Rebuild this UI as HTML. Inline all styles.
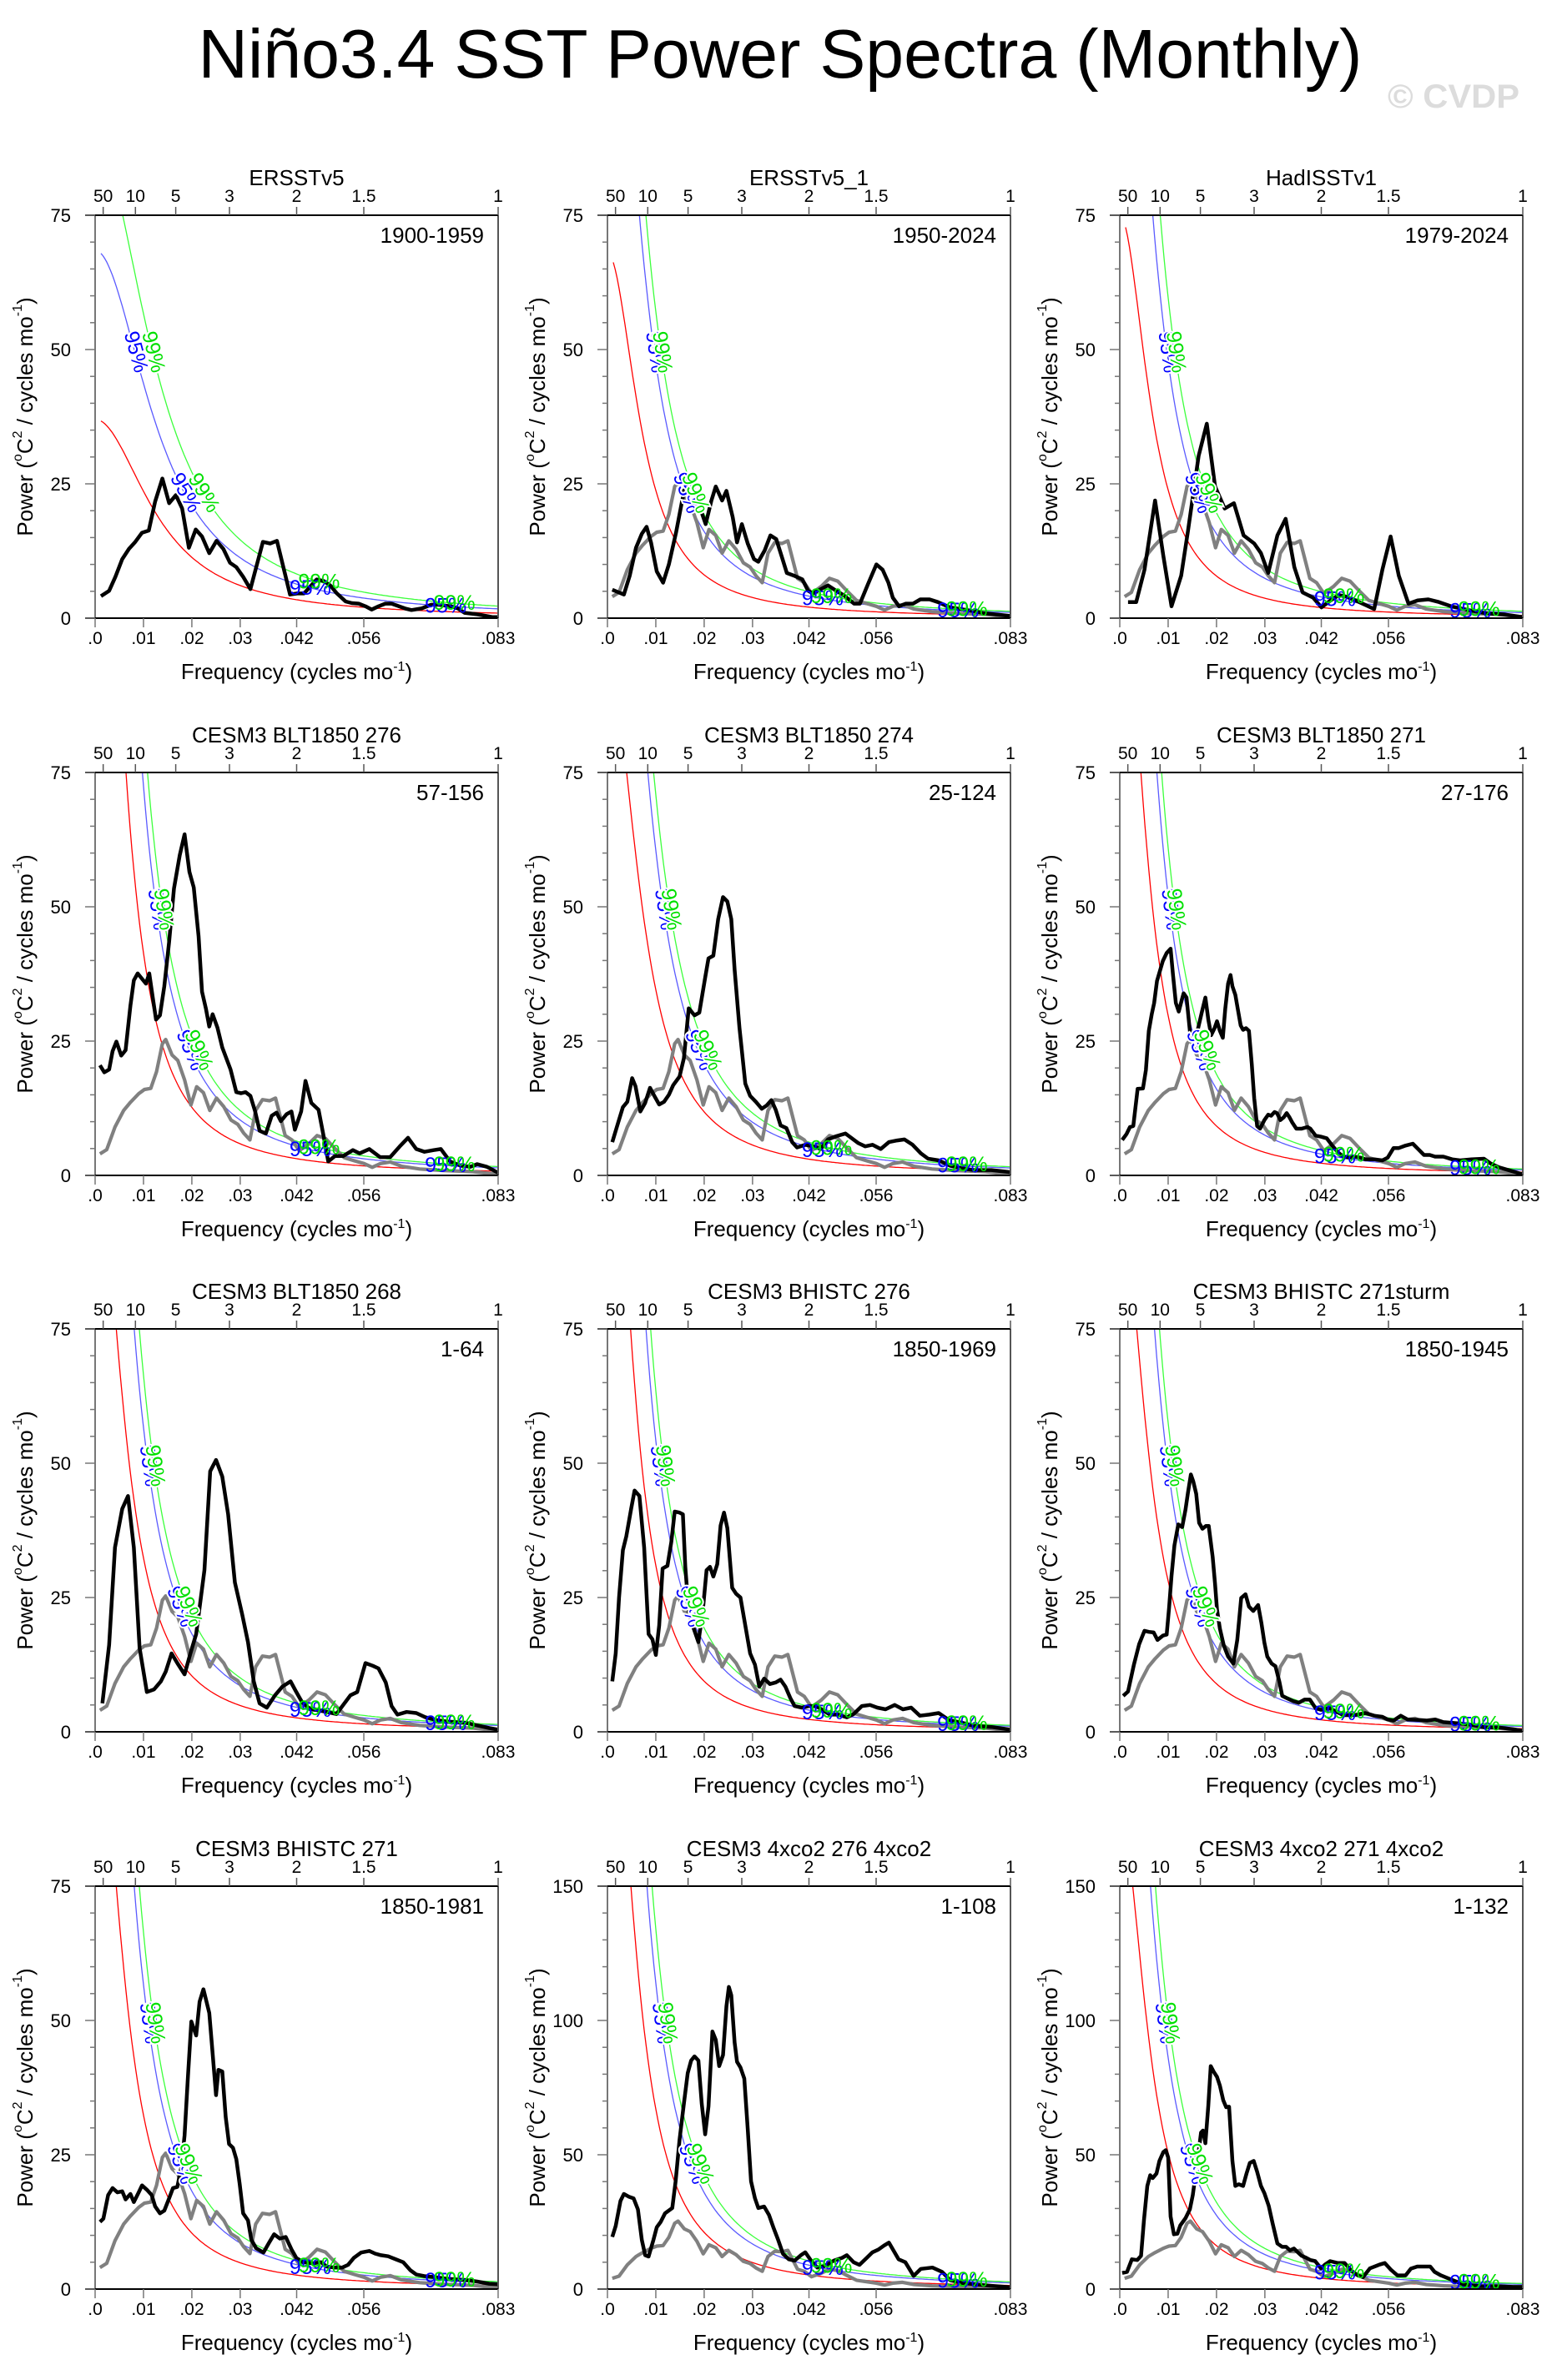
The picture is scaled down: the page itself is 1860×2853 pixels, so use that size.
<!DOCTYPE html>
<html><head><meta charset="utf-8"><title>Niño3.4 SST Power Spectra</title>
<style>html,body{margin:0;padding:0;background:#fff}svg{display:block;font-family:"Liberation Sans",Arial,sans-serif}</style>
</head><body>
<svg id="chart" width="1860" height="2853" viewBox="0 0 1860 2853" xmlns="http://www.w3.org/2000/svg">
<rect width="1860" height="2853" fill="#fff"/>
<text x="935" y="93" font-size="83" text-anchor="middle" textLength="1395" lengthAdjust="spacingAndGlyphs">Niño3.4 SST Power Spectra (Monthly)</text>
<text x="1742" y="129" font-size="40" font-weight="bold" fill="#dcdcdc" text-anchor="middle" textLength="158" lengthAdjust="spacingAndGlyphs">© CVDP</text>
<g id="panels"></g>
</svg>
<script>
// ---------- panel metadata ----------
const titles=["ERSSTv5","ERSSTv5_1","HadISSTv1","CESM3 BLT1850 276","CESM3 BLT1850 274","CESM3 BLT1850 271","CESM3 BLT1850 268","CESM3 BHISTC 276","CESM3 BHISTC 271sturm","CESM3 BHISTC 271","CESM3 4xco2 276 4xco2","CESM3 4xco2 271 4xco2"];
const periods=["1900-1959","1950-2024","1979-2024","57-156","25-124","27-176","1-64","1850-1969","1850-1945","1850-1981","1-108","1-132"];
const yMaxes=[75,75,75,75,75,75,75,75,75,75,150,150];
const redS0=[37,68,75,170,96,117,109,130,98,109,243,177];
const redLag=[0.92,0.955,0.958,0.965,0.954,0.964,0.96,0.9655,0.961,0.96,0.962,0.961];
const conf95=[1.85,2.0,2.0,1.75,1.75,1.75,1.75,1.75,1.75,1.75,1.7,1.7];
const conf99=[2.4,2.4,2.5,2.05,2.05,2.05,2.05,2.05,2.05,2.05,2.0,2.0];
const xTickVals=[0,0.01,0.02,0.03,0.04167,0.05556,0.08333];
const xTickLabels=[".0",".01",".02",".03",".042",".056",".083"];
const topPeriods=[50,10,5,3,2,1.5,1];
const topLabels=["50","10","5","3","2","1.5","1"];

// ---------- reference (gray) spectrum ----------
const grayF=[.0010,.0024,.0041,.0059,.0073,.0090,.0102,.0115,.0127,.0139,.0146,.0159,.0171,.0185,.0198,.0210,.0224,.0237,.0251,.0266,.0281,.0295,.0307,.0320,.0332,.0346,.0361,.0373,.0393,.0407,.0422,.0442,.0459,.0476,.0495,.0515,.0537,.0556,.0573,.0590,.0610,.0634,.0671,.0720,.0781,.0833];
const grayP=[4.0,4.8,9.0,12.1,13.6,15.2,16.0,16.2,19.3,24.5,25.3,22.4,21.4,17.8,13.1,16.5,15.4,12.1,14.4,12.8,10.3,9.5,7.9,6.6,12.1,14.1,13.9,14.4,7.4,6.6,4.6,5.9,7.4,6.9,5.1,3.3,2.7,2.2,1.5,2.2,2.5,1.7,1.2,0.9,0.7,0.2];

// ---------- per-panel spectra ----------
const p1F=[.0012,.0029,.0042,.0056,.0070,.0083,.0097,.0111,.0124,.0139,.0153,.0167,.0180,.0194,.0208,.0221,.0236,.0251,.0265,.0279,.0292,.0306,.0321,.0347,.0362,.0376,.0403,.0418,.0432,.0458,.0473,.0486,.0500,.0518,.0531,.0545,.0559,.0572,.0586,.0600,.0613,.0641,.0654,.0675,.0695,.0709,.0736,.0750,.0764,.0791,.0821,.0833];
const p1P=[4.1,5.1,7.7,11.0,12.9,14.2,15.9,16.3,21.7,26.0,21.4,22.9,20.4,13.1,16.5,15.2,12.1,14.4,12.9,10.3,9.5,7.7,5.4,14.2,13.9,14.4,4.4,4.6,4.6,7.2,6.9,6.1,4.6,3.1,2.8,2.7,2.2,1.6,2.2,2.7,2.7,1.8,1.5,1.8,2.5,2.5,2.2,1.8,1.0,0.7,0.2,0.2];
const p2F=[.0010,.0034,.0046,.0059,.0071,.0081,.0090,.0102,.0115,.0127,.0142,.0154,.0163,.0173,.0188,.0203,.0215,.0224,.0237,.0246,.0259,.0268,.0278,.0290,.0303,.0312,.0325,.0337,.0349,.0361,.0371,.0386,.0403,.0415,.0425,.0439,.0456,.0473,.0488,.0510,.0522,.0539,.0556,.0569,.0581,.0590,.0603,.0617,.0632,.0647,.0666,.0683,.0708,.0744,.0781,.0833];
const p2P=[5.3,4.4,7.9,13.1,15.7,17.0,14.1,8.7,6.6,10.0,16.0,21.7,25.5,25.3,21.4,17.5,21.9,24.5,21.9,23.7,18.8,14.1,17.5,13.9,11.0,10.5,12.6,15.4,14.7,11.3,8.4,7.9,7.2,5.1,4.6,5.3,6.1,5.1,4.3,2.7,2.7,6.4,10.0,9.0,6.6,3.8,2.2,2.7,2.7,3.5,3.5,3.0,2.0,1.5,0.9,0.4];
const p3F=[.0017,.0034,.0051,.0073,.0090,.0107,.0127,.0141,.0163,.0180,.0197,.0217,.0236,.0256,.0278,.0292,.0307,.0326,.0343,.0361,.0378,.0400,.0417,.0436,.0453,.0468,.0487,.0507,.0526,.0543,.0560,.0577,.0597,.0616,.0638,.0660,.0685,.0721,.0758,.0794,.0833];
const p3P=[3.0,3.0,9.0,21.9,11.6,2.2,7.9,16.2,30.2,36.2,24.5,20.4,21.4,15.4,13.9,12.1,8.4,15.4,18.5,9.5,4.8,3.8,2.0,3.3,4.3,4.0,3.3,2.5,1.7,9.0,15.2,7.9,2.7,3.3,3.5,3.0,2.2,1.5,0.9,0.7,0.2];
const p4F=[.0010,.0019,.0029,.0036,.0044,.0054,.0063,.0073,.0080,.0088,.0095,.0105,.0112,.0119,.0126,.0134,.0143,.0153,.0163,.0175,.0185,.0195,.0204,.0214,.0221,.0229,.0236,.0243,.0253,.0263,.0280,.0292,.0302,.0311,.0321,.0331,.0340,.0353,.0365,.0375,.0384,.0396,.0406,.0413,.0426,.0435,.0447,.0462,.0472,.0482,.0496,.0513,.0533,.0547,.0567,.0589,.0610,.0630,.0647,.0664,.0681,.0700,.0715,.0734,.0756,.0776,.0790,.0810,.0833];
const p4P=[20.5,19.2,19.7,23.1,24.9,22.3,23.3,31.6,36.3,37.6,36.8,35.7,37.6,33.2,29.0,29.8,35.2,43.5,53.4,59.6,63.5,56.5,53.6,44.5,34.2,31.1,27.7,30.0,27.5,23.8,19.7,15.5,15.3,15.5,14.8,11.9,8.3,7.8,11.1,11.7,10.1,11.4,11.9,8.5,11.9,17.6,13.5,12.2,7.5,2.6,3.6,3.6,4.7,4.1,4.9,3.4,3.4,5.4,7.0,4.9,4.4,4.7,4.9,2.6,1.8,1.6,2.1,1.6,0.5];
const p5F=[.0010,.0022,.0032,.0041,.0051,.0058,.0068,.0078,.0088,.0097,.0107,.0117,.0127,.0136,.0149,.0158,.0168,.0180,.0190,.0202,.0209,.0219,.0229,.0239,.0248,.0256,.0263,.0273,.0285,.0295,.0307,.0319,.0329,.0339,.0348,.0358,.0370,.0382,.0392,.0409,.0426,.0441,.0456,.0473,.0492,.0504,.0519,.0533,.0548,.0565,.0582,.0599,.0614,.0631,.0648,.0663,.0685,.0709,.0733,.0758,.0794,.0833];
const p5P=[6.2,9.8,12.7,13.7,18.1,16.6,11.9,13.5,16.3,14.8,13.2,13.7,15.0,16.8,18.4,21.8,31.1,29.8,30.3,36.8,40.4,40.9,47.7,51.8,51.0,47.7,38.3,27.5,17.1,14.8,13.7,12.4,13.0,14.0,12.2,9.3,8.8,6.2,5.2,5.7,5.4,4.9,6.7,7.3,7.8,7.0,6.0,5.4,5.7,4.9,6.2,6.5,6.7,5.7,4.1,3.1,2.8,1.8,1.3,1.0,1.0,0.6];
const p6F=[.0005,.0014,.0021,.0028,.0037,.0048,.0054,.0060,.0066,.0071,.0077,.0089,.0097,.0105,.0110,.0116,.0122,.0128,.0132,.0138,.0145,.0150,.0155,.0162,.0170,.0177,.0183,.0189,.0196,.0201,.0207,.0213,.0218,.0224,.0229,.0233,.0239,.0244,.0250,.0255,.0261,.0267,.0273,.0278,.0284,.0290,.0299,.0307,.0313,.0320,.0325,.0332,.0339,.0345,.0351,.0357,.0365,.0376,.0388,.0394,.0405,.0416,.0428,.0439,.0451,.0462,.0474,.0485,.0497,.0508,.0526,.0543,.0554,.0566,.0577,.0589,.0606,.0618,.0629,.0641,.0652,.0669,.0687,.0704,.0727,.0753,.0767,.0784,.0807,.0833];
const p6P=[6.6,7.7,9.0,9.2,16.1,16.2,19.6,26.9,30.0,32.1,36.2,39.9,41.4,42.2,37.3,32.1,30.5,32.6,33.9,33.1,26.9,25.3,25.3,27.4,30.5,33.1,29.0,26.1,27.4,28.7,26.9,25.6,31.0,35.7,37.3,35.2,33.6,31.0,27.9,27.1,27.4,26.9,20.7,14.4,9.2,8.7,10.3,11.3,11.1,11.8,11.6,10.3,10.8,11.6,10.8,9.8,8.7,8.7,9.0,8.7,7.4,7.2,6.9,5.6,4.3,3.5,3.3,3.5,3.3,3.0,3.0,2.8,3.3,5.1,5.1,5.5,5.9,4.8,3.8,3.8,3.5,3.5,3.0,2.8,3.0,3.1,2.2,1.5,0.9,0.2];
const p7F=[.0015,.0029,.0041,.0056,.0068,.0080,.0092,.0107,.0122,.0136,.0146,.0158,.0170,.0185,.0197,.0209,.0226,.0238,.0250,.0263,.0275,.0289,.0304,.0316,.0328,.0340,.0355,.0372,.0387,.0404,.0416,.0428,.0445,.0462,.0479,.0499,.0513,.0528,.0542,.0559,.0574,.0586,.0601,.0613,.0625,.0644,.0664,.0683,.0705,.0730,.0766,.0790,.0815,.0833];
const p7P=[5.3,16.2,34.3,41.5,43.9,34.3,15.6,7.4,7.9,9.4,11.2,14.6,12.8,10.7,14.6,18.2,30.1,48.5,50.6,47.5,40.5,27.8,21.9,16.7,9.4,5.3,4.5,6.8,8.4,9.4,7.4,5.5,4.2,4.0,3.7,3.3,5.0,6.8,7.4,12.8,12.3,11.8,9.2,4.8,3.2,3.7,3.5,2.7,2.2,1.9,1.7,1.2,0.7,0.4];
const p8F=[.0010,.0017,.0024,.0032,.0039,.0049,.0056,.0066,.0076,.0085,.0093,.0100,.0107,.0114,.0124,.0132,.0139,.0149,.0156,.0161,.0168,.0178,.0188,.0197,.0205,.0212,.0219,.0227,.0234,.0241,.0248,.0258,.0266,.0275,.0285,.0295,.0305,.0314,.0324,.0336,.0348,.0358,.0368,.0378,.0387,.0402,.0417,.0431,.0446,.0460,.0477,.0495,.0509,.0526,.0543,.0558,.0575,.0594,.0611,.0628,.0646,.0665,.0685,.0706,.0733,.0758,.0794,.0833];
const p8P=[9.4,14.6,25.0,33.8,36.4,41.5,44.9,43.9,34.3,18.2,17.2,14.3,19.8,30.4,30.9,35.3,41.0,40.8,40.5,30.7,22.4,19.3,16.7,22.4,30.1,30.7,28.9,31.2,38.4,40.8,37.9,26.8,25.7,25.0,19.8,14.6,12.5,8.4,9.9,8.9,9.2,9.7,8.4,6.3,4.8,4.5,4.8,4.8,4.0,3.2,3.2,2.7,3.3,4.8,5.0,4.5,4.2,5.0,4.2,4.5,3.0,3.2,3.5,2.2,1.7,1.1,0.9,0.4];
const p9F=[.0007,.0017,.0029,.0040,.0051,.0060,.0070,.0078,.0089,.0097,.0102,.0107,.0113,.0121,.0129,.0136,.0141,.0147,.0152,.0158,.0164,.0171,.0178,.0184,.0192,.0197,.0201,.0207,.0215,.0224,.0235,.0243,.0251,.0260,.0267,.0276,.0286,.0293,.0299,.0305,.0314,.0322,.0330,.0336,.0347,.0359,.0370,.0382,.0393,.0405,.0416,.0434,.0451,.0462,.0485,.0508,.0526,.0543,.0554,.0566,.0581,.0595,.0618,.0635,.0652,.0669,.0698,.0727,.0756,.0784,.0813,.0833];
const p9P=[6.7,7.5,12.4,16.3,18.8,18.6,18.5,17.1,17.9,18.1,23.1,29.0,34.7,38.6,38.1,41.4,44.5,47.9,46.6,44.3,38.9,37.8,38.3,38.3,32.6,27.5,22.8,19.2,16.1,14.0,12.7,17.1,24.9,25.6,23.3,22.5,23.6,20.2,16.6,14.0,12.7,12.2,9.3,6.7,6.2,5.7,5.4,6.0,6.0,4.4,4.1,4.4,3.6,3.1,3.1,3.5,3.0,2.8,2.3,2.1,3.0,2.3,2.2,2.1,2.3,1.8,1.6,1.3,0.8,0.8,0.5,0.2];
const p10F=[.0010,.0017,.0027,.0036,.0046,.0056,.0063,.0073,.0080,.0090,.0097,.0107,.0117,.0124,.0134,.0143,.0153,.0161,.0170,.0178,.0185,.0192,.0199,.0209,.0216,.0224,.0236,.0243,.0250,.0255,.0263,.0270,.0277,.0285,.0292,.0299,.0306,.0316,.0323,.0333,.0348,.0360,.0370,.0382,.0394,.0406,.0416,.0430,.0450,.0467,.0479,.0494,.0511,.0523,.0535,.0550,.0567,.0579,.0591,.0606,.0623,.0637,.0652,.0664,.0681,.0705,.0730,.0766,.0790,.0815,.0833];
const p10P=[12.5,13.1,17.5,18.8,18.0,18.2,16.7,17.7,16.2,18.0,19.3,18.5,17.5,15.4,14.1,14.6,16.9,18.8,19.0,22.6,28.6,39.7,49.8,47.2,53.5,55.8,51.4,43.9,36.1,40.8,40.5,32.0,27.0,26.3,24.2,19.5,14.1,12.8,9.2,7.6,6.8,8.7,10.2,9.4,9.7,7.4,5.8,5.0,4.8,5.0,4.2,4.0,4.0,4.5,5.8,6.8,7.1,6.6,6.3,6.1,5.5,5.0,3.5,2.7,2.4,2.2,1.9,1.7,1.4,1.0,0.9];
const p11F=[.0010,.0017,.0027,.0034,.0044,.0054,.0063,.0071,.0078,.0085,.0095,.0102,.0110,.0119,.0134,.0141,.0149,.0158,.0166,.0173,.0180,.0188,.0195,.0202,.0209,.0217,.0224,.0231,.0239,.0246,.0251,.0256,.0263,.0268,.0275,.0283,.0290,.0297,.0305,.0312,.0324,.0334,.0343,.0353,.0363,.0375,.0387,.0400,.0409,.0421,.0434,.0448,.0468,.0485,.0495,.0509,.0521,.0536,.0548,.0560,.0572,.0582,.0592,.0602,.0616,.0633,.0648,.0672,.0692,.0709,.0733,.0758,.0794,.0833];
const p11P=[19.4,23.5,32.8,35.4,34.4,33.8,29.7,18.3,12.6,12.1,18.3,23.0,25.0,28.2,30.2,40.1,55.6,69.0,80.4,85.1,86.6,85.1,69.0,57.6,68.0,95.9,92.8,83.0,87.1,105.3,112.5,109.4,91.8,84.6,82.5,78.4,59.7,40.1,33.8,30.2,30.7,27.6,23.0,18.3,13.1,11.1,10.6,12.6,13.7,10.6,8.0,8.5,10.6,11.6,12.6,10.0,9.0,11.6,13.7,14.7,16.2,17.3,14.2,11.1,10.0,4.9,7.5,8.0,6.4,3.3,2.3,1.8,1.2,0.7];
const p12F=[.0005,.0015,.0025,.0036,.0044,.0050,.0057,.0063,.0068,.0076,.0082,.0090,.0095,.0100,.0105,.0112,.0119,.0125,.0136,.0145,.0151,.0157,.0162,.0168,.0172,.0177,.0183,.0188,.0194,.0201,.0207,.0214,.0220,.0226,.0233,.0239,.0246,.0255,.0262,.0269,.0277,.0284,.0292,.0299,.0308,.0316,.0326,.0336,.0344,.0352,.0360,.0368,.0376,.0385,.0394,.0404,.0416,.0424,.0435,.0451,.0465,.0479,.0492,.0503,.0517,.0537,.0548,.0561,.0574,.0591,.0602,.0615,.0629,.0642,.0651,.0664,.0683,.0711,.0745,.0779,.0813,.0833];
const p12P=[6.0,6.4,11.1,10.8,12.4,25.7,38.4,42.4,41.3,43.0,47.7,51.0,51.7,49.0,27.0,20.4,20.6,23.7,26.4,29.7,35.0,43.0,49.7,58.3,59.0,54.3,68.3,83.0,81.0,79.0,75.7,70.3,67.7,67.9,47.7,38.4,39.0,38.4,43.0,47.0,47.7,43.7,38.4,35.7,31.0,24.4,17.0,15.7,15.7,14.4,15.1,13.7,12.4,11.7,10.8,10.4,7.7,9.1,10.4,9.7,9.7,6.8,5.1,4.4,7.7,9.1,9.7,7.1,5.1,5.1,7.6,8.4,8.4,8.4,6.4,5.1,3.7,1.7,1.1,1.1,0.8,0.8];

const seriesF=[p1F,p2F,p3F,p4F,p5F,p6F,p7F,p8F,p9F,p10F,p11F,p12F];
const seriesP=[p1P,p2P,p3P,p4P,p5P,p6P,p7P,p8P,p9P,p10P,p11P,p12P];

// ---------- layout ----------
const NS="http://www.w3.org/2000/svg";
const colLeft=[114,728,1342], rowTop=[258,926,1593,2261], W=483, H=483, FMAX=1/12;
const root=document.getElementById('panels');
function mk(tag,attrs,parent){const e=document.createElementNS(NS,tag);for(const k in attrs)e.setAttribute(k,attrs[k]);parent.appendChild(e);return e;}
function redNoise(i,f){const r=redLag[i];const d=(1-r)*(1-r);return redS0[i]*d/(d+2*r*(1-Math.cos(2*Math.PI*f)));}

for(let i=0;i<12;i++){
  const L=colLeft[i%3], T=rowTop[Math.floor(i/3)], ymax=yMaxes[i];
  const X=f=>L+f/FMAX*W, Y=v=>T+H-v/ymax*H;
  const g=mk('g',{},root);
  
  
  const cp=mk('clipPath',{id:'clip'+i},g);
  mk('rect',{x:L,y:T,width:W,height:H},cp);

  const tt=mk('text',{x:L+W/2,y:T-36,'font-size':26,'text-anchor':'middle'},g);
  tt.textContent=titles[i];
  
  
  const pt=mk('text',{x:L+W-17,y:T+33,'font-size':26,'text-anchor':'end'},g);
  pt.textContent=periods[i];
  
  

  const cg=mk('g',{'clip-path':'url(#clip'+i+')'},g);
  
  
  const fs=[];for(let f=0.0012;f<=FMAX+1e-9;f+=0.0004)fs.push(f);
  const curveDefs=[[1,'#ff0000','red-noise-curve'],[conf95[i],'#5a5aff','conf-95-curve'],[conf99[i],'#3cff3c','conf-99-curve']];
  curveDefs.forEach(([m,col,nm])=>{
    const d=fs.map((f,k)=>(k?'L':'M')+X(f).toFixed(1)+','+Math.max(T-50,Y(m*redNoise(i,f))).toFixed(1)).join('');
    const p=mk('path',{d:d,fill:'none',stroke:col,'stroke-width':1.3},cg);
    
    
  });
  if(i>0){
    const d=grayF.map((f,k)=>(k?'L':'M')+X(f).toFixed(1)+','+Y(grayP[k]).toFixed(1)).join('');
    const p=mk('path',{d:d,fill:'none',stroke:'#808080','stroke-width':4.2,'stroke-linejoin':'round'},cg);
    
    
  }
  const F=seriesF[i],P=seriesP[i],n=Math.min(F.length,P.length);
  let d='';for(let k=0;k<n;k++)d+=(k?'L':'M')+X(F[k]).toFixed(1)+','+Y(P[k]).toFixed(1);
  const bl=mk('path',{d:d,fill:'none',stroke:'#000','stroke-width':4.5,'stroke-linejoin':'round'},cg);
  
  

  [[conf95[i],'#0000ff','95%',0],[conf99[i],'#00e000','99%',1]].forEach(([m,col,lab,j])=>{
    const fn=f=>m*redNoise(i,f);
    [0.66,0.31].forEach(frac=>{
      const tgt=frac*ymax;let lo=0.0005,hi=FMAX;
      for(let it=0;it<40;it++){const mid=(lo+hi)/2;if(fn(mid)>tgt)lo=mid;else hi=mid;}
      const f=(lo+hi)/2, x=X(f), y=Y(fn(f));
      const ang=Math.atan2(Y(fn(f+0.0005))-y, X(f+0.0005)-x)*180/Math.PI;
      const t=mk('text',{x:x.toFixed(1),y:y.toFixed(1),'font-size':25,fill:col,'text-anchor':'middle','dominant-baseline':'middle',transform:'rotate('+ang.toFixed(1)+' '+x.toFixed(1)+' '+y.toFixed(1)+')',stroke:'#fff','stroke-width':4,'paint-order':'stroke'},g);
      t.textContent=lab;
      
      
    });
    [0.0445,0.0725].forEach(f0=>{
      const f=f0+j*0.0018, x=X(f), y=Y(fn(f))+8;
      const t=mk('text',{x:x.toFixed(1),y:y.toFixed(1),'font-size':25,fill:col,'text-anchor':'middle'},g);
      t.textContent=lab;
      
      
    });
  });

  const ax=mk('g',{},g);
  
  
  mk('line',{x1:L,y1:T,x2:L,y2:T+H,stroke:'#777','stroke-width':2},ax);
  mk('line',{x1:L+W,y1:T,x2:L+W,y2:T+H,stroke:'#555','stroke-width':2},ax);
  mk('line',{x1:L-12,y1:T+H,x2:L+W,y2:T+H,stroke:'#000','stroke-width':2},ax);
  mk('line',{x1:L-12,y1:T,x2:L+W,y2:T,stroke:'#000','stroke-width':2},ax);
  const minor=ymax/15, major=ymax/3;
  for(let v=0;v<=ymax+1e-6;v+=minor){
    const isMaj=Math.abs(v/major-Math.round(v/major))<1e-6;
    mk('line',{x1:L-(isMaj?12:6),y1:Y(v),x2:L,y2:Y(v),stroke:'#777','stroke-width':1.5},ax);
    if(isMaj){
      const t=mk('text',{x:L-29,y:Y(v)+8,'font-size':22,'text-anchor':'end'},ax);
      t.textContent=String(Math.round(v));
      
      
    }
  }
  xTickVals.forEach((f,k)=>{
    mk('line',{x1:X(f),y1:T+H,x2:X(f),y2:T+H+11,stroke:'#777','stroke-width':1.5},ax);
    const t=mk('text',{x:X(f),y:T+H+31,'font-size':21,'text-anchor':'middle'},ax);
    t.textContent=xTickLabels[k];
    
    
  });
  topPeriods.forEach((p,k)=>{
    const f=1/(12*p);
    mk('line',{x1:X(f),y1:T-10,x2:X(f),y2:T,stroke:'#555','stroke-width':1.5},ax);
    const t=mk('text',{x:X(f),y:T-16,'font-size':21,'text-anchor':'middle'},ax);
    t.textContent=topLabels[k];
    
    
  });
  const xt=mk('text',{x:L+W/2,y:T+H+73,'font-size':26,'text-anchor':'middle'},ax);
  
  
  xt.innerHTML='Frequency (cycles mo<tspan dy="-10" font-size="16">-1</tspan><tspan dy="10">)</tspan>';
  const yx=L-82, yy=T+H/2;
  const yt=mk('text',{x:yx,y:yy,'font-size':26,'text-anchor':'middle',transform:'rotate(-90 '+yx+' '+yy+')','dominant-baseline':'middle'},ax);
  
  
  yt.innerHTML='Power (<tspan dy="-10" font-size="16">o</tspan><tspan dy="10">C</tspan><tspan dy="-10" font-size="16">2</tspan><tspan dy="10"> / cycles mo</tspan><tspan dy="-10" font-size="16">-1</tspan><tspan dy="10">)</tspan>';
}
</script>
</body></html>
